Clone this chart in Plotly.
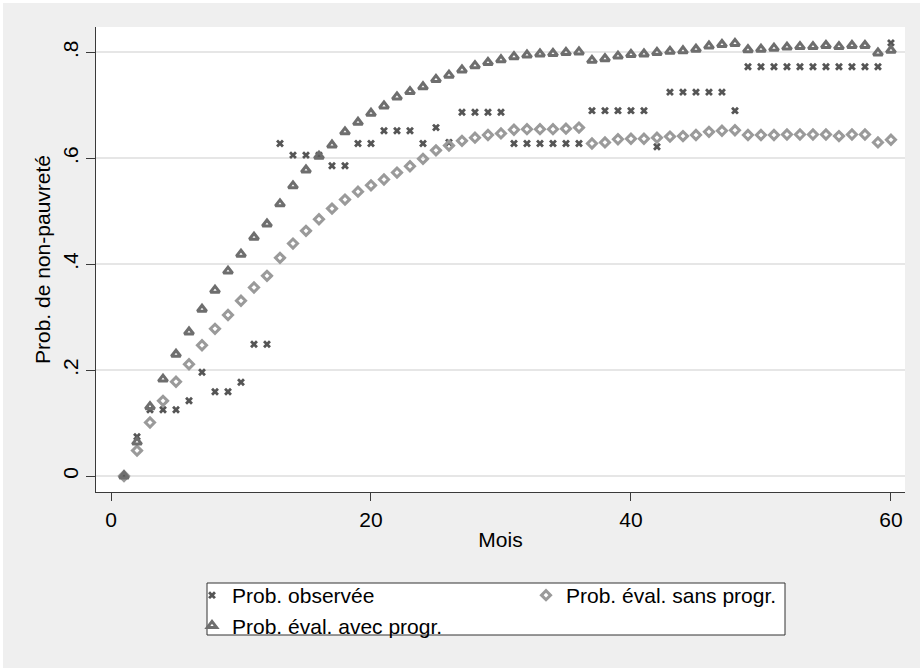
import plotly.graph_objects as go

# Months since entry
months = list(range(1, 61))

# Observed probability of being out of poverty
prob_observee = [
    0.000, 0.074, 0.125, 0.125, 0.125, 0.142, 0.196, 0.159, 0.159, 0.177,
    0.249, 0.249, 0.628, 0.606, 0.606, 0.606, 0.586, 0.586, 0.628, 0.628,
    0.652, 0.652, 0.652, 0.628, 0.658, 0.630, 0.687, 0.687, 0.687, 0.687,
    0.628, 0.628, 0.628, 0.628, 0.628, 0.628, 0.690, 0.690, 0.690, 0.690,
    0.690, 0.622, 0.725, 0.725, 0.725, 0.725, 0.725, 0.690, 0.773, 0.773,
    0.773, 0.773, 0.773, 0.773, 0.773, 0.773, 0.773, 0.773, 0.773, 0.818,
]

# Estimated probability without the programme
prob_sans_progr = [
    0.000, 0.048, 0.101, 0.142, 0.178, 0.211, 0.247, 0.278, 0.304, 0.331,
    0.356, 0.378, 0.412, 0.439, 0.463, 0.485, 0.505, 0.522, 0.537, 0.549,
    0.560, 0.573, 0.585, 0.599, 0.615, 0.624, 0.633, 0.639, 0.644, 0.647,
    0.654, 0.655, 0.655, 0.655, 0.656, 0.658, 0.628, 0.630, 0.636, 0.637,
    0.637, 0.639, 0.641, 0.642, 0.644, 0.650, 0.652, 0.653, 0.644, 0.644,
    0.644, 0.645, 0.645, 0.645, 0.645, 0.642, 0.645, 0.645, 0.630, 0.635,
]

# Estimated probability with the programme
prob_avec_progr = [
    0.000, 0.064, 0.131, 0.183, 0.230, 0.272, 0.315, 0.351, 0.387, 0.419,
    0.451, 0.476, 0.514, 0.548, 0.578, 0.604, 0.625, 0.650, 0.668, 0.685,
    0.699, 0.716, 0.726, 0.735, 0.749, 0.757, 0.767, 0.775, 0.781, 0.786,
    0.792, 0.795, 0.797, 0.798, 0.800, 0.801, 0.785, 0.788, 0.793, 0.796,
    0.797, 0.800, 0.802, 0.803, 0.806, 0.812, 0.815, 0.817, 0.805, 0.806,
    0.808, 0.810, 0.811, 0.811, 0.813, 0.811, 0.813, 0.813, 0.799, 0.804,
]

x_ticks = [0, 20, 40, 60]
y_ticks = [0, 0.2, 0.4, 0.6, 0.8]
y_tick_text = ["0", ".2", ".4", ".6", ".8"]

FONT = "Liberation Sans, Arial, sans-serif"
W, H = 923, 671
L, R, T, B = 96, 18, 27, 179
PW, PH = W - L - R, H - T - B


def px_x(p):
    return (p - L) / PW


def px_y(p):
    return (H - B - p) / PH


fig = go.Figure()

fig.add_trace(go.Scatter(
    x=months, y=prob_observee, mode="markers", name="Prob. observée",
    marker=dict(symbol="x", size=7, color="#555555", line=dict(width=0)),
))
fig.add_trace(go.Scatter(
    x=months, y=prob_sans_progr, mode="markers", name="Prob. éval. sans progr.",
    marker=dict(symbol="diamond-open", size=7, color="#9a9a9a",
                line=dict(width=3, color="#9a9a9a")),
))
fig.add_trace(go.Scatter(
    x=months, y=prob_avec_progr, mode="markers", name="Prob. éval. avec progr.",
    marker=dict(symbol="triangle-up-open", size=8, color="#6e6e6e",
                line=dict(width=3, color="#6e6e6e")),
))

shapes = [
    # graph region
    dict(type="rect", xref="paper", yref="paper", layer="below",
         x0=px_x(3), x1=px_x(920), y0=px_y(668), y1=px_y(3),
         fillcolor="#efefef", line=dict(width=0)),
    # plot region
    dict(type="rect", xref="paper", yref="paper", layer="below",
         x0=0, x1=1, y0=0, y1=1, fillcolor="white", line=dict(width=0)),
    # legend frame
    dict(type="rect", xref="paper", yref="paper", layer="below",
         x0=px_x(207), x1=px_x(785), y0=px_y(635), y1=px_y(583),
         fillcolor="white", line=dict(width=1, color="#333333")),
]

fig.update_layout(
    width=W, height=H,
    margin=dict(l=L, r=R, t=T, b=B, pad=0),
    paper_bgcolor="white",
    plot_bgcolor="white",
    font=dict(family=FONT, size=21, color="black"),
    shapes=shapes,
    showlegend=True,
    legend=dict(
        orientation="h", x=px_x(192), xanchor="left",
        y=px_y(575), yanchor="top",
        bgcolor="rgba(0,0,0,0)", borderwidth=0,
        entrywidth=289, entrywidthmode="pixels",
        font=dict(family=FONT, size=21, color="black"),
        traceorder="normal", itemsizing="trace",
    ),
    xaxis=dict(
        range=[-1.154, 61.08], tickmode="array", tickvals=x_ticks,
        showgrid=False, zeroline=False,
        showline=True, linecolor="#3a3a3a", linewidth=1,
        ticks="outside", ticklen=8, tickcolor="#3a3a3a", tickwidth=1,
        ticklabelstandoff=1,
        tickfont=dict(family=FONT, size=21, color="black"),
        title=dict(text="Mois", standoff=2,
                   font=dict(family=FONT, size=21, color="black")),
    ),
    yaxis=dict(
        range=[-0.0302, 0.848], tickmode="array", tickvals=y_ticks,
        ticktext=y_tick_text, tickangle=-90,
        showgrid=True, gridcolor="#e6e6e6", gridwidth=2, zeroline=False,
        showline=True, linecolor="#3a3a3a", linewidth=1,
        ticks="outside", ticklen=9, tickcolor="#3a3a3a", tickwidth=1,
        ticklabelstandoff=0,
        tickfont=dict(family=FONT, size=21, color="black"),
        title=dict(text="Prob. de non-pauvreté", standoff=2,
                   font=dict(family=FONT, size=21, color="black")),
    ),
)

fig.write_html("out.html")
